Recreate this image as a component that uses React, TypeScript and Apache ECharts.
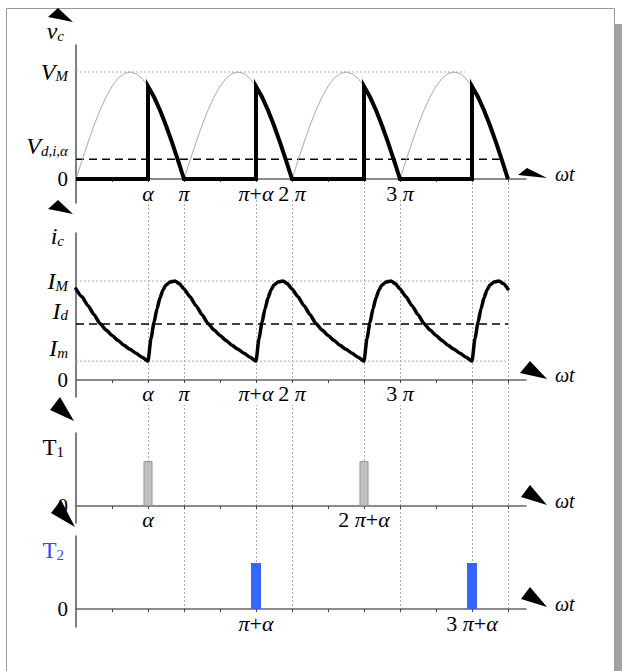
import React, { useEffect, useRef } from "react";
import * as echarts from "echarts";

const SERIF = "'Liberation Serif', 'Times New Roman', serif";

// ---- x axis (degrees, π = 180°) ----
const xMaxDeg = 750;
const tickDeg = [60, 120, 180, 240, 300, 360, 420, 480, 540, 600, 660, 720];
const vcTickLabels: [number, string][] = [[120, "α"], [180, "π"], [300, "π+α"], [360, "2 π"], [540, "3 π"]];
const icTickLabels: [number, string][] = [[120, "α"], [180, "π"], [300, "π+α"], [360, "2 π"], [540, "3 π"]];
const t1TickLabels: [number, string][] = [[120, "α"], [480, "2 π+α"]];
const t2TickLabels: [number, string][] = [[300, "π+α"], [660, "3 π+α"]];

// ---- v_c panel ----
const arcStarts = [0, 180, 360, 540];
const arcStepDeg = 10;
const sineArc = [0, 0.174, 0.342, 0.5, 0.643, 0.766, 0.866, 0.94, 0.985, 1, 0.985, 0.94, 0.866, 0.766, 0.643, 0.5, 0.342, 0.174, 0];
const firingAngles = [120, 300, 480, 660];
const vcAfterFiring = [0.866, 0.766, 0.643, 0.5, 0.342, 0.174, 0];
const VM = 1;
const VD = 0.184;
const vmLineEnd = 648;
const vdLineEnd = 706;
const vcRange = [-0.224, 1.252];

// ---- i_c panel (one period, firing at α) ----
const iCycleDeg = [120, 125, 130, 135, 140, 145, 150, 157, 165, 172, 180, 190, 200, 210, 220, 230, 240, 250, 260, 270, 280, 290, 300];
const iCycleVal = [0.19, 0.42, 0.58, 0.72, 0.83, 0.91, 0.96, 0.99, 1.0, 0.975, 0.92, 0.84, 0.75, 0.66, 0.57, 0.505, 0.45, 0.4, 0.35, 0.31, 0.27, 0.23, 0.19];
const iShifts = [-180, 0, 180, 360, 540];
const IM = 1;
const ID = 0.566;
const Im = 0.19;
const iLineEnd = 720;
const icRange = [-0.172, 1.485];

// ---- gate pulses ----
const t1Pulses = [120, 480];
const t2Pulses = [300, 660];
const pulseHeight = 1;
const t1Range = [-0.378, 1.622];
const t2Range = [-0.39, 1.587];

// vertical guides: angle, start (below labels / at axis), end
const guides: [number, string, string][] = [
  [120, "below", "t1"],
  [180, "below", "end"],
  [300, "below", "t2"],
  [360, "below", "end"],
  [480, "axis", "t1"],
  [540, "below", "end"],
  [660, "axis", "t2"],
  [720, "axis", "end"],
];

const greek = new Set(["α", "π", "ω"]);
function toRich(s: string) {
  let out = "";
  let cur = "";
  let curStyle = "";
  for (const ch of s) {
    const st = greek.has(ch) ? "g" : "n";
    if (st !== curStyle && cur) {
      out += `{${curStyle}|${cur}}`;
      cur = "";
    }
    curStyle = st;
    cur += ch;
  }
  if (cur) out += `{${curStyle}|${cur}}`;
  return out;
}

const tickRich = {
  g: { fontFamily: SERIF, fontStyle: "italic", fontSize: 22, color: "#000", lineHeight: 22 },
  n: { fontFamily: SERIF, fontSize: 22, color: "#000", lineHeight: 22 },
};

const symRich = {
  v: { fontFamily: SERIF, fontStyle: "italic", fontSize: 24, color: "#000", lineHeight: 24, verticalAlign: "bottom" },
  s: { fontFamily: SERIF, fontStyle: "italic", fontSize: 15, color: "#000", lineHeight: 12, verticalAlign: "bottom" },
  r: { fontFamily: SERIF, fontSize: 23, color: "#000", lineHeight: 24, verticalAlign: "bottom" },
  rs: { fontFamily: SERIF, fontSize: 15, color: "#000", lineHeight: 12, verticalAlign: "bottom" },
  b: { fontFamily: SERIF, fontSize: 23, color: "#2a4cff", lineHeight: 24, verticalAlign: "bottom" },
  bs: { fontFamily: SERIF, fontSize: 15, color: "#2a4cff", lineHeight: 12, verticalAlign: "bottom" },
  n: { fontFamily: SERIF, fontSize: 21, color: "#000", lineHeight: 24 },
};

function xAxisFor(gridIndex: number, labels: [number, string][], bg: boolean, range: number[], height: number) {
  const zeroFromBottom = (-range[0] / (range[1] - range[0])) * height;
  return {
    type: "value",
    gridIndex,
    min: 0,
    max: xMaxDeg,
    position: "bottom",
    offset: -zeroFromBottom,
    name: "{w|ωt}",
    nameLocation: "end",
    nameGap: 29,
    nameTextStyle: {
      padding: [0, 0, 10, 0],
      rich: { w: { fontFamily: SERIF, fontStyle: "italic", fontSize: 20, color: "#000" } },
    },
    axisLine: { show: true, onZero: false, lineStyle: { color: "#666", width: 1.5 } },
    axisTick: { show: true, customValues: tickDeg, length: 3, lineStyle: { color: "#444", width: 1 } },
    axisLabel: {
      show: true,
      hideOverlap: false,
      customValues: labels.map((l) => l[0]),
      formatter: (v: number) => {
        const f = labels.find((l) => Math.abs(l[0] - v) < 1e-6);
        return f ? toRich(f[1]) : "";
      },
      margin: 3,
      rich: tickRich,
      backgroundColor: bg ? "#fff" : "transparent",
      padding: bg ? [0, 2, 0, 2] : 0,
    },
    splitLine: { show: false },
  };
}

function yAxisFor(
  gridIndex: number,
  range: number[],
  name: string,
  nameGap: number,
  labels: [number, string][],
  raised = false
) {
  return {
    type: "value",
    gridIndex,
    position: "left",
    min: range[0],
    max: range[1],
    name: raised ? "" : name,
    nameLocation: "end",
    nameGap,
    nameTextStyle: { align: "right", verticalAlign: "middle", padding: [0, 12, 0, 0], rich: symRich },
    axisLine: { show: !raised, onZero: false, lineStyle: { color: "#555", width: 1.5 } },
    axisTick: { show: false },
    splitLine: { show: false },
    axisLabel: {
      show: true,
      hideOverlap: false,
      customValues: labels.map((l) => l[0]),
      formatter: (v: number) => {
        const f = labels.find((l) => Math.abs(l[0] - v) < 1e-6);
        return f ? f[1] : "";
      },
      margin: 8,
      verticalAlign: raised ? "bottom" : "middle",
      padding: raised ? [0, 0, 1, 0] : 0,
      rich: symRich,
    },
  };
}

function refLine(xi: number, data: number[][], dashed: boolean) {
  return {
    type: "line",
    xAxisIndex: xi,
    yAxisIndex: xi,
    data,
    showSymbol: false,
    silent: true,
    z: 1,
    lineStyle: dashed
      ? { color: "#000", width: 1.5, type: [8, 5] }
      : { color: "#aaa", width: 1, type: [2, 2] },
  };
}

const grids = [
  { top: 45, height: 158 },
  { top: 233, height: 164 },
  { top: 433, height: 90 },
  { top: 536, height: 91 },
];

function buildOption() {
  const sineData = arcStarts.flatMap((s) => sineArc.map((v, i) => [s + i * arcStepDeg, v]));
  const vcData: number[][] = [[0, 0]];
  firingAngles.forEach((f) => {
    vcData.push([f, 0]);
    vcAfterFiring.forEach((v, i) => vcData.push([f + i * arcStepDeg, v]));
  });
  const icData: number[][] = [];
  iShifts.forEach((sh) => {
    iCycleDeg.forEach((d, j) => {
      const x = d + sh;
      if (x >= 0 && x <= 720) icData.push([x, iCycleVal[j]]);
    });
  });

  return {
    animation: false,
    backgroundColor: "transparent",
    grid: grids.map((g) => ({ left: 76, width: 450, top: g.top, height: g.height, outerBoundsMode: "none" })),
    xAxis: [
      xAxisFor(0, vcTickLabels, false, vcRange, grids[0].height),
      xAxisFor(1, icTickLabels, true, icRange, grids[1].height),
      xAxisFor(2, t1TickLabels, true, t1Range, grids[2].height),
      xAxisFor(3, t2TickLabels, true, t2Range, grids[3].height),
    ],
    yAxis: [
      yAxisFor(0, vcRange, "{v|v}{s|c}", 14, [
        [VM, "{v|V}{s|M}"],
        [0, "{n|0}"],
      ]),
      yAxisFor(1, icRange, "{v|i}{s|c}", -3, [
        [IM, "{v|I}{s|M}"],
        [0, "{n|0}"],
      ]),
      yAxisFor(2, t1Range, "{r|T}{rs|1}", -14, [[0, "{n|0}"]]),
      yAxisFor(3, t2Range, "{b|T}{bs|2}", -14, [[0, "{n|0}"]]),
      yAxisFor(0, vcRange, "", 0, [[VD, "{v|V}{s|d,i,α}"]], true),
      yAxisFor(1, icRange, "", 0, [
        [ID, "{v|I}{s|d}"],
        [Im, "{v|I}{s|m}"],
      ], true),
    ],
    series: [
      refLine(0, [[0, VM], [vmLineEnd, VM]], false),
      refLine(0, [[0, VD], [vdLineEnd, VD]], true),
      {
        type: "line",
        xAxisIndex: 0,
        yAxisIndex: 0,
        data: sineData,
        showSymbol: false,
        silent: true,
        z: 2,
        lineStyle: { color: "#aaa", width: 1 },
      },
      {
        type: "line",
        xAxisIndex: 0,
        yAxisIndex: 0,
        data: vcData,
        showSymbol: false,
        silent: true,
        z: 3,
        lineStyle: { color: "#000", width: 4, join: "miter", cap: "butt" },
      },
      refLine(1, [[0, IM], [iLineEnd, IM]], false),
      refLine(1, [[0, Im], [iLineEnd, Im]], false),
      refLine(1, [[0, ID], [iLineEnd, ID]], true),
      {
        type: "line",
        xAxisIndex: 1,
        yAxisIndex: 1,
        data: icData,
        showSymbol: false,
        silent: true,
        smooth: 0.2,
        smoothMonotone: "x",
        z: 3,
        lineStyle: { color: "#000", width: 3.5, join: "round", cap: "round" },
      },
      {
        type: "bar",
        xAxisIndex: 2,
        yAxisIndex: 2,
        data: t1Pulses.map((d) => [d, pulseHeight]),
        barWidth: 9,
        silent: true,
        itemStyle: { color: "#c0c0c0", borderColor: "#999", borderWidth: 1 },
      },
      {
        type: "bar",
        xAxisIndex: 3,
        yAxisIndex: 3,
        data: t2Pulses.map((d) => [d, pulseHeight]),
        barWidth: 10,
        silent: true,
        itemStyle: { color: "#3366ff" },
      },
    ],
  };
}

const arrowPolys: number[][][] = [
  [[48, 17], [58, 8], [73, 22]],
  [[48, 209], [58, 200], [73, 214]],
  [[50, 410], [60, 397], [74, 421]],
  [[51, 513], [61, 500], [75, 527]],
  [[518, 175], [527, 168], [547, 178]],
  [[520, 373], [530, 361], [547, 379]],
  [[521, 497], [530, 485], [547, 505]],
  [[521, 599], [530, 587], [547, 607]],
];

export default function App() {
  const ref = useRef<HTMLDivElement>(null);
  useEffect(() => {
    if (!ref.current) return;
    const chart = echarts.init(ref.current, null, { renderer: "svg" });
    chart.setOption(buildOption() as any);

    const px = (g: number, x: number, y: number) =>
      chart.convertToPixel({ gridIndex: g } as any, [x, y]) as unknown as number[];
    const p1Axis = px(0, 0, 0)[1];
    const guideEls = guides.map(([deg, start, end]) => {
      const x = Math.round(px(0, deg, 0)[0]) + 0.5;
      const y1 = start === "below" ? p1Axis + 21 : p1Axis;
      let y2: number;
      if (end === "t1") y2 = px(2, deg, pulseHeight)[1];
      else if (end === "t2") y2 = px(3, deg, pulseHeight)[1];
      else y2 = px(3, deg, 0)[1];
      return {
        type: "line",
        silent: true,
        z: -1,
        shape: { x1: x, y1, x2: x, y2 },
        style: { stroke: "#aaa", lineWidth: 1, lineDash: [2, 2] },
      };
    });
    const frame = [
      {
        type: "rect",
        silent: true,
        z: -2,
        shape: { x: 6.5, y: 8.5, width: 608, height: 700 },
        style: { fill: "none", stroke: "#999", lineWidth: 1 },
      },
      {
        type: "rect",
        silent: true,
        z: -2,
        shape: { x: 615, y: 24, width: 7, height: 660 },
        style: { fill: "#a3a3a3" },
      },
    ];
    const arrows = arrowPolys.map((pts) => ({
      type: "polygon",
      silent: true,
      z: 5,
      shape: { points: pts },
      style: { fill: "#000" },
    }));
    chart.setOption({ graphic: [...frame, ...guideEls, ...arrows] } as any);
    return () => chart.dispose();
  }, []);
  return (
    <div
      ref={ref}
      style={{ position: "fixed", left: 0, top: 0, width: 622, height: 671, background: "#fff" }}
    />
  );
}
